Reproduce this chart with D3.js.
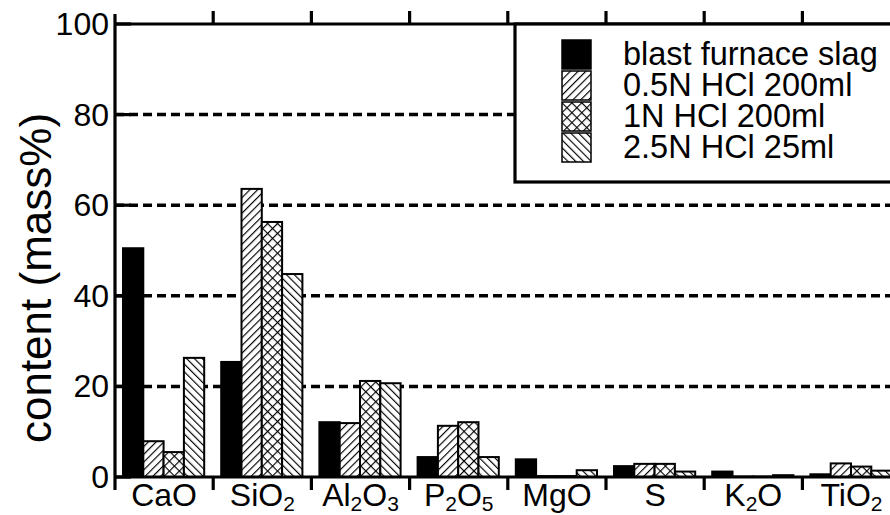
<!DOCTYPE html>
<html>
<head>
<meta charset="utf-8">
<script src="https://cdn.jsdelivr.net/npm/d3@7"></script>
<style>
  body { margin: 0; background: #fff; }
  svg text { font-family: "Liberation Sans", Arial, sans-serif; fill: #000; }
</style>
</head>
<body>
<main></main>
<script>
const width = 890, height = 515;

// data
const categories = ["CaO", "SiO2", "Al2O3", "P2O5", "MgO", "S", "K2O", "TiO2"];
const seriesNames = ["blast furnace slag", "0.5N HCl 200ml", "1N HCl 200ml", "2.5N HCl 25ml"];
const slag    = [50.5, 25.4, 12.1, 4.4, 3.9, 2.4, 1.2, 0.6];
const hcl05   = [7.9, 63.6, 11.9, 11.3, 0.2, 2.9, 0.1, 3.0];
const hcl1    = [5.5, 56.3, 21.2, 12.1, 0.2, 2.9, 0.1, 2.3];
const hcl25   = [26.3, 44.8, 20.7, 4.4, 1.5, 1.2, 0.4, 1.4];
const yTicks  = [0, 20, 40, 60, 80, 100];
const gridTicks = [20, 40, 60, 80];

const seriesValues = [slag, hcl05, hcl1, hcl25];
const fills = ["#000", "url(#fwd)", "url(#cross)", "url(#back)"];

const margin = {left: 115, top: 24, bottom: 477};

const svg = d3.select("main").append("svg")
    .attr("width", width)
    .attr("height", height);

// hatch patterns
const defs = svg.append("defs");
function hatch(id, angle) {
  const p = defs.append("pattern")
      .attr("id", id)
      .attr("patternUnits", "userSpaceOnUse")
      .attr("width", 5.5)
      .attr("height", 5.5)
      .attr("patternTransform", "rotate(" + angle + ")");
  p.append("rect").attr("width", 5.5).attr("height", 5.5).attr("fill", "#fff");
  p.append("line").attr("x1", 0).attr("y1", 0).attr("x2", 0).attr("y2", 5.5)
      .attr("stroke", "#000").attr("stroke-width", 2.3);
}
hatch("fwd", 45);
hatch("back", -45);
const cp = defs.append("pattern")
    .attr("id", "cross")
    .attr("patternUnits", "userSpaceOnUse")
    .attr("width", 7).attr("height", 7)
    .attr("patternTransform", "rotate(45)");
cp.append("rect").attr("width", 7).attr("height", 7).attr("fill", "#fff");
cp.append("line").attr("x1", 0).attr("y1", 0).attr("x2", 0).attr("y2", 7)
    .attr("stroke", "#000").attr("stroke-width", 2.3);
cp.append("line").attr("x1", 0).attr("y1", 0).attr("x2", 7).attr("y2", 0)
    .attr("stroke", "#000").attr("stroke-width", 2.3);

const x = d3.scaleBand()
    .domain(categories)
    .range([margin.left, margin.left + 8 * 98.2]);

const xSub = d3.scaleBand()
    .domain(d3.range(4))
    .range([8, x.bandwidth() - 9]);

const y = d3.scaleLinear()
    .domain([0, 100])
    .range([margin.bottom, margin.top]);

// dashed gridlines
svg.append("g").selectAll("line")
    .data(gridTicks)
    .enter().append("line")
    .attr("x1", margin.left)
    .attr("x2", width)
    .attr("y1", d => y(d))
    .attr("y2", d => y(d))
    .attr("stroke", "#000")
    .attr("stroke-width", 3.5)
    .attr("stroke-dasharray", "9,5");

// bars
const groups = svg.append("g").selectAll("g")
    .data(categories)
    .enter().append("g")
    .attr("transform", d => "translate(" + x(d) + ",0)");

groups.selectAll("rect")
    .data((d, i) => seriesValues.map((s, k) => ({k: k, v: s[i]})))
    .enter().append("rect")
    .attr("x", d => xSub(d.k))
    .attr("width", xSub.bandwidth())
    .attr("y", d => y(d.v))
    .attr("height", d => y(0) - y(d.v))
    .attr("fill", d => fills[d.k])
    .attr("stroke", "#000")
    .attr("stroke-width", 2);

// axes frame
const frame = svg.append("g").attr("stroke", "#000").attr("stroke-width", 3.2);
frame.append("line").attr("x1", margin.left).attr("x2", margin.left).attr("y1", 14).attr("y2", 490);
frame.append("line").attr("x1", margin.left).attr("x2", width).attr("y1", y(0)).attr("y2", y(0));
frame.append("line").attr("x1", margin.left).attr("x2", width).attr("y1", y(100)).attr("y2", y(100));

const sep = categories.slice(1).map(c => x(c));
frame.selectAll(".bt").data(sep).enter().append("line")
    .attr("x1", d => d).attr("x2", d => d)
    .attr("y1", y(0)).attr("y2", y(0) + 13);
frame.selectAll(".tt").data(sep).enter().append("line")
    .attr("x1", d => d).attr("x2", d => d)
    .attr("y1", y(100)).attr("y2", y(100) - 13);
frame.selectAll(".yt").data(yTicks).enter().append("line")
    .attr("x1", margin.left).attr("x2", margin.left + 16)
    .attr("y1", d => y(d)).attr("y2", d => y(d));

// y tick labels
svg.append("g").selectAll("text")
    .data(yTicks)
    .enter().append("text")
    .attr("x", 109)
    .attr("y", d => y(d) + 11)
    .attr("text-anchor", "end")
    .attr("font-size", 32)
    .text(d => d);

// category labels with subscripts
const catLabels = svg.append("g").selectAll("text")
    .data(categories)
    .enter().append("text")
    .attr("x", d => x(d) + x.bandwidth() / 2)
    .attr("y", 506)
    .attr("text-anchor", "middle")
    .attr("font-size", 32);
catLabels.each(function (d) {
  const t = d3.select(this);
  let low = false;
  d.split(/(\d)/).filter(s => s !== "").forEach(s => {
    const sub = /\d/.test(s);
    const dy = sub === low ? 0 : (sub ? 5 : -5);
    low = sub;
    t.append("tspan")
        .attr("dy", dy)
        .attr("font-size", sub ? 21 : null)
        .text(s);
  });
});

// y axis title
svg.append("text")
    .attr("transform", "translate(51,278) rotate(-90)")
    .attr("text-anchor", "middle")
    .attr("font-size", 44)
    .text("content (mass%)");

// legend
const legend = svg.append("g");
legend.append("rect")
    .attr("x", 515).attr("y", y(100))
    .attr("width", 400).attr("height", 158)
    .attr("fill", "#fff")
    .attr("stroke", "#000")
    .attr("stroke-width", 3.2);

const items = legend.selectAll(".item")
    .data(seriesNames)
    .enter().append("g")
    .attr("transform", (d, i) => "translate(562," + (40 + i * 31) + ")");
items.append("rect")
    .attr("width", 29).attr("height", 29)
    .attr("fill", (d, i) => fills[i])
    .attr("stroke", "#000")
    .attr("stroke-width", 1.5);
items.append("text")
    .attr("x", 61)
    .attr("y", 25)
    .attr("font-size", 32.5)
    .text(d => d);
</script>
</body>
</html>
